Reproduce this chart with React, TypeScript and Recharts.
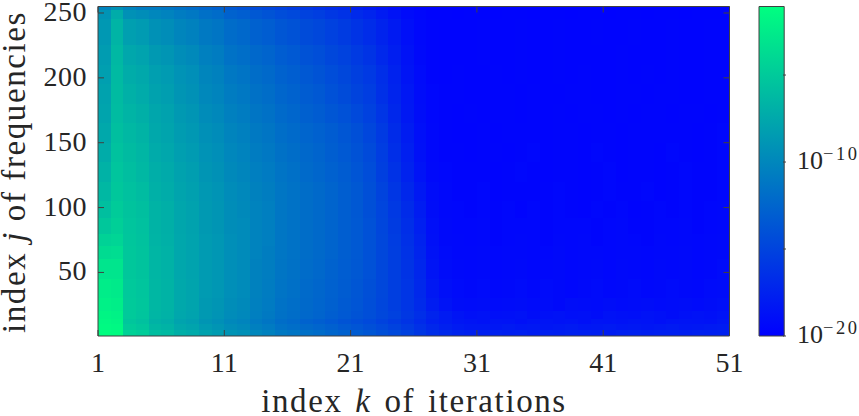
/**
 * Iteration / frequency residual heatmap (log10 values), winter colormap.
 * Each row band is one stacked Bar, each iteration k one x position.
 */
import { BarChart, Bar, XAxis, YAxis } from 'recharts'

const iterations = Array.from({ length: 50 }, (_, i) => i + 1)
const xTicks = [1, 11, 21, 31, 41, 51]
const yTicks = [50, 100, 150, 200, 250]
const jEdges = [0, 6, 10, 14, 20, 30, 45, 60, 70, 80, 92, 105, 120, 135, 150, 165, 180, 195, 210, 225, 245, 252, 256]

// log10 of the value, k = 1..50, lowest j band first
const band01 = [-1.1,-1.3,-4.4,-4.8,-5.9,-6.2,-7.0,-7.3,-8.0,-8.4,-9.0,-9.3,-10.0,-10.4,-11.0,-11.3,-11.7,-12.0,-12.4,-12.8,-13.2,-13.6,-14.1,-14.6,-15.2,-15.9,-16.6,-17.0,-17.4,-17.6,-17.7,-17.6,-17.8,-17.7,-17.9,-17.7,-17.8,-17.6,-17.7,-17.8,-17.9,-17.7,-17.6,-17.8,-17.7,-17.7,-17.8,-17.6,-17.7,-17.6]
const band02 = [-1.4,-1.6,-4.9,-5.3,-6.4,-6.7,-7.5,-7.8,-8.5,-8.9,-9.5,-9.8,-10.5,-10.9,-11.5,-11.8,-12.2,-12.5,-12.9,-13.3,-13.7,-14.1,-14.6,-15.1,-15.7,-16.4,-17.1,-17.6,-18.0,-18.2,-18.2,-18.3,-18.1,-18.3,-18.2,-18.4,-18.2,-18.1,-18.3,-18.2,-18.1,-18.3,-18.2,-18.4,-18.2,-18.1,-18.3,-18.2,-18.1,-18.0]
const band03 = [-1.6,-1.8,-5.3,-5.7,-6.8,-7.1,-7.9,-8.2,-8.9,-9.3,-9.9,-10.2,-10.9,-11.3,-11.9,-12.2,-12.7,-13.0,-13.4,-13.8,-14.2,-14.6,-15.1,-15.6,-16.2,-16.9,-17.6,-18.0,-18.4,-18.5,-18.7,-18.5,-18.6,-18.8,-18.6,-18.5,-18.7,-18.6,-18.8,-18.5,-18.6,-18.7,-18.5,-18.6,-18.8,-18.6,-18.5,-18.6,-18.7,-18.4]
const band04 = [-1.8,-2.0,-5.0,-5.4,-6.5,-6.8,-7.6,-7.9,-8.6,-9.0,-9.6,-9.9,-10.6,-11.0,-11.6,-11.9,-12.3,-12.6,-13.0,-13.4,-13.8,-14.2,-14.7,-15.2,-15.9,-16.6,-17.4,-18.0,-18.5,-18.8,-18.7,-18.9,-18.8,-18.7,-19.0,-18.8,-18.7,-18.9,-18.8,-19.0,-18.7,-18.8,-18.9,-18.7,-18.8,-19.0,-18.8,-18.7,-18.8,-18.6]
const band05 = [-2.1,-2.3,-5.0,-5.3,-6.4,-6.7,-7.5,-7.8,-8.6,-8.9,-9.5,-9.8,-10.5,-10.9,-11.5,-11.8,-12.2,-12.5,-12.9,-13.3,-13.7,-14.2,-14.8,-15.4,-16.1,-16.9,-17.9,-18.6,-19.0,-19.1,-19.0,-19.2,-19.1,-19.0,-19.2,-19.1,-19.3,-19.0,-19.1,-19.2,-19.0,-19.2,-19.1,-19.0,-19.2,-19.1,-19.0,-19.2,-19.0,-18.9]
const band06 = [-2.4,-2.6,-5.1,-5.4,-6.4,-6.7,-7.5,-7.8,-8.5,-8.8,-9.4,-9.7,-10.4,-10.8,-11.4,-11.7,-12.1,-12.4,-12.8,-13.2,-13.6,-14.1,-14.7,-15.4,-16.1,-17.0,-18.2,-18.9,-19.2,-19.3,-19.2,-19.4,-19.3,-19.2,-19.4,-19.2,-19.3,-19.5,-19.3,-19.2,-19.4,-19.3,-19.2,-19.4,-19.3,-19.2,-19.3,-19.4,-19.2,-19.1]
const band07 = [-3.0,-3.0,-5.2,-5.5,-6.5,-6.8,-7.6,-7.9,-8.5,-8.8,-9.4,-9.7,-10.4,-10.7,-11.3,-11.6,-12.0,-12.3,-12.7,-13.1,-13.5,-14.0,-14.7,-15.4,-16.2,-17.2,-18.5,-19.1,-19.3,-19.4,-19.3,-19.5,-19.4,-19.3,-19.5,-19.4,-19.3,-19.5,-19.4,-19.3,-19.5,-19.3,-19.4,-19.5,-19.3,-19.4,-19.3,-19.5,-19.4,-19.2]
const band08 = [-3.7,-3.6,-5.2,-5.5,-6.5,-6.8,-7.6,-7.9,-8.5,-8.8,-9.4,-9.7,-10.3,-10.7,-11.2,-11.5,-11.9,-12.2,-12.6,-13.0,-13.4,-14.0,-14.7,-15.4,-16.3,-17.3,-18.7,-19.2,-19.4,-19.4,-19.3,-19.5,-19.4,-19.4,-19.5,-19.5,-19.3,-19.5,-19.4,-19.4,-19.5,-19.4,-19.4,-19.5,-19.4,-19.4,-19.3,-19.5,-19.4,-19.3]
const band09 = [-4.4,-4.2,-5.3,-5.6,-6.6,-6.9,-7.6,-7.9,-8.5,-8.8,-9.4,-9.7,-10.3,-10.6,-11.2,-11.5,-11.9,-12.2,-12.6,-13.0,-13.4,-14.0,-14.7,-15.5,-16.4,-17.5,-18.8,-19.3,-19.4,-19.5,-19.4,-19.6,-19.5,-19.4,-19.5,-19.6,-19.4,-19.5,-19.4,-19.6,-19.5,-19.4,-19.5,-19.6,-19.4,-19.5,-19.4,-19.5,-19.4,-19.3]
const band10 = [-5.2,-4.6,-5.4,-5.7,-6.7,-7.0,-7.7,-8.0,-8.6,-8.9,-9.5,-9.7,-10.3,-10.6,-11.2,-11.5,-11.9,-12.2,-12.6,-13.0,-13.4,-14.0,-14.8,-15.6,-16.6,-17.7,-18.9,-19.3,-19.5,-19.5,-19.4,-19.6,-19.5,-19.5,-19.5,-19.6,-19.5,-19.5,-19.5,-19.6,-19.5,-19.4,-19.6,-19.6,-19.5,-19.5,-19.4,-19.6,-19.5,-19.4]
const band11 = [-5.8,-4.9,-5.5,-5.8,-6.7,-7.0,-7.7,-8.0,-8.6,-8.9,-9.5,-9.8,-10.3,-10.6,-11.2,-11.5,-11.9,-12.2,-12.6,-13.0,-13.5,-14.1,-14.9,-15.8,-16.8,-17.9,-19.0,-19.4,-19.5,-19.6,-19.5,-19.6,-19.5,-19.7,-19.5,-19.6,-19.5,-19.6,-19.7,-19.5,-19.6,-19.5,-19.7,-19.6,-19.5,-19.6,-19.5,-19.6,-19.5,-19.4]
const band12 = [-6.3,-5.2,-5.7,-6.0,-6.9,-7.2,-7.8,-8.1,-8.7,-9.0,-9.6,-9.9,-10.4,-10.7,-11.2,-11.5,-11.9,-12.2,-12.6,-13.0,-13.5,-14.1,-15.0,-16.0,-17.1,-18.2,-19.1,-19.4,-19.6,-19.6,-19.5,-19.7,-19.6,-19.6,-19.6,-19.6,-19.5,-19.6,-19.7,-19.6,-19.5,-19.6,-19.6,-19.5,-19.7,-19.6,-19.5,-19.6,-19.6,-19.5]
const band13 = [-6.8,-5.4,-5.9,-6.3,-7.1,-7.4,-8.0,-8.3,-8.9,-9.2,-9.8,-10.1,-10.6,-10.9,-11.4,-11.7,-12.1,-12.4,-12.8,-13.2,-13.7,-14.3,-15.3,-16.3,-17.5,-18.6,-19.3,-19.5,-19.6,-19.6,-19.6,-19.7,-19.6,-19.5,-19.6,-19.7,-19.6,-19.6,-19.7,-19.6,-19.5,-19.7,-19.6,-19.6,-19.7,-19.6,-19.5,-19.6,-19.6,-19.5]
const band14 = [-7.2,-5.6,-6.1,-6.5,-7.3,-7.6,-8.2,-8.5,-9.1,-9.4,-10.0,-10.3,-10.8,-11.1,-11.6,-11.9,-12.3,-12.6,-13.0,-13.4,-13.9,-14.5,-15.5,-16.6,-17.7,-18.8,-19.4,-19.6,-19.6,-19.7,-19.6,-19.6,-19.7,-19.6,-19.5,-19.7,-19.6,-19.6,-19.7,-19.5,-19.6,-19.7,-19.6,-19.6,-19.7,-19.5,-19.6,-19.7,-19.6,-19.5]
const band15 = [-7.5,-5.8,-6.3,-6.7,-7.5,-7.8,-8.4,-8.7,-9.3,-9.6,-10.2,-10.5,-11.0,-11.3,-11.8,-12.1,-12.5,-12.8,-13.2,-13.6,-14.1,-14.8,-15.7,-16.8,-17.9,-18.9,-19.4,-19.6,-19.7,-19.7,-19.6,-19.7,-19.6,-19.6,-19.6,-19.7,-19.6,-19.6,-19.7,-19.6,-19.6,-19.7,-19.6,-19.6,-19.6,-19.6,-19.6,-19.7,-19.6,-19.5]
const band16 = [-7.8,-6.0,-6.6,-7.0,-7.7,-8.0,-8.6,-8.9,-9.6,-9.9,-10.5,-10.8,-11.3,-11.6,-12.1,-12.4,-12.9,-13.2,-13.6,-14.0,-14.6,-15.2,-16.1,-17.1,-18.2,-19.0,-19.5,-19.6,-19.7,-19.6,-19.7,-19.6,-19.6,-19.7,-19.6,-19.7,-19.6,-19.7,-19.6,-19.6,-19.7,-19.6,-19.7,-19.6,-19.6,-19.7,-19.6,-19.6,-19.7,-19.6]
const band17 = [-8.0,-6.1,-6.9,-7.3,-8.0,-8.3,-8.9,-9.2,-9.9,-10.2,-10.8,-11.1,-11.6,-11.9,-12.4,-12.7,-13.2,-13.5,-14.0,-14.4,-15.0,-15.5,-16.4,-17.3,-18.3,-19.1,-19.5,-19.6,-19.6,-19.7,-19.7,-19.6,-19.6,-19.7,-19.6,-19.7,-19.7,-19.6,-19.6,-19.7,-19.7,-19.6,-19.6,-19.7,-19.6,-19.6,-19.7,-19.7,-19.6,-19.6]
const band18 = [-8.2,-6.2,-7.2,-7.5,-8.2,-8.5,-9.1,-9.4,-10.1,-10.4,-11.1,-11.4,-11.9,-12.2,-12.7,-13.0,-13.5,-13.8,-14.3,-14.7,-15.3,-15.8,-16.6,-17.5,-18.5,-19.2,-19.6,-19.7,-19.6,-19.7,-19.7,-19.6,-19.7,-19.6,-19.7,-19.7,-19.6,-19.7,-19.6,-19.7,-19.7,-19.6,-19.7,-19.6,-19.7,-19.6,-19.7,-19.7,-19.6,-19.6]
const band19 = [-8.4,-6.3,-7.6,-7.9,-8.6,-8.9,-9.5,-9.8,-10.5,-10.8,-11.5,-11.8,-12.3,-12.6,-13.1,-13.4,-13.9,-14.2,-14.7,-15.1,-15.7,-16.2,-17.0,-17.8,-18.7,-19.3,-19.6,-19.7,-19.7,-19.7,-19.6,-19.7,-19.7,-19.6,-19.7,-19.7,-19.6,-19.7,-19.7,-19.7,-19.7,-19.6,-19.7,-19.7,-19.7,-19.6,-19.7,-19.7,-19.6,-19.6]
const band20 = [-8.7,-6.6,-8.2,-8.5,-9.2,-9.5,-10.1,-10.4,-11.0,-11.3,-12.0,-12.3,-12.8,-13.1,-13.6,-13.9,-14.4,-14.7,-15.2,-15.6,-16.2,-16.7,-17.4,-18.1,-18.9,-19.4,-19.6,-19.7,-19.7,-19.7,-19.6,-19.7,-19.7,-19.6,-19.7,-19.7,-19.6,-19.7,-19.7,-19.6,-19.7,-19.7,-19.6,-19.7,-19.7,-19.6,-19.7,-19.7,-19.6,-19.6]
const band21 = [-9.0,-7.2,-9.2,-9.5,-10.0,-10.3,-10.8,-11.1,-11.7,-12.0,-12.7,-13.0,-13.5,-13.8,-14.3,-14.6,-15.1,-15.4,-15.9,-16.3,-16.9,-17.3,-18.0,-18.6,-19.2,-19.5,-19.7,-19.7,-19.8,-19.7,-19.7,-19.8,-19.7,-19.7,-19.8,-19.7,-19.7,-19.8,-19.7,-19.7,-19.8,-19.7,-19.7,-19.8,-19.7,-19.7,-19.8,-19.7,-19.7,-19.7]
const band22 = [-10.2,-9.2,-10.2,-10.8,-10.9,-11.2,-11.6,-12.0,-12.5,-12.9,-13.5,-13.9,-14.4,-14.8,-15.2,-15.6,-16.0,-16.4,-16.8,-17.2,-17.8,-18.2,-18.7,-19.1,-19.5,-19.7,-19.8,-19.8,-19.8,-19.8,-19.8,-19.8,-19.8,-19.8,-19.8,-19.8,-19.8,-19.8,-19.8,-19.8,-19.8,-19.8,-19.8,-19.8,-19.8,-19.8,-19.8,-19.8,-19.8,-19.8]

const bands = [band01, band02, band03, band04, band05, band06, band07, band08, band09, band10, band11, band12, band13, band14, band15, band16, band17, band18, band19, band20, band21, band22]

const barLimits = [-20, -1.06]
const barMinorTicks = [-15, -5]
const barTicks = [-20, -15, -10, -5]

const TEXT = '#262626'
const AXIS = '#404040'
const FONT = '"Liberation Serif", serif'

// MATLAB winter: blue to spring green
function winter(v: number) {
  const t = Math.max(0, Math.min(1, (v - barLimits[0]) / (barLimits[1] - barLimits[0])))
  return `rgb(0,${Math.round(255 * t)},${Math.round(255 - 127.5 * t)})`
}

const chartData = iterations.map((k) => {
  const row: Record<string, number> = { k, mid: k + 0.5 }
  bands.forEach((_, b) => { row[`b${b}`] = jEdges[b + 1] - jEdges[b] })
  return row
})

const barData = [{ name: 'scale', range: barLimits }]

// eslint-disable-next-line @typescript-eslint/no-explicit-any
function CellShape(props: any) {
  const { x, y, width, height, payload, bandIndex } = props
  return (
    <rect x={x} y={y} width={width} height={height} shapeRendering="crispEdges"
      fill={winter(bands[bandIndex][payload.k - 1])} />
  )
}

// ticks point inward on all four sides, like the MATLAB box
// eslint-disable-next-line @typescript-eslint/no-explicit-any
function BottomTick({ x, y, payload }: any) {
  return (
    <g>
      <line x1={x} x2={x} y1={y} y2={y - 6} stroke={AXIS} />
      <text x={x} y={y + 36} textAnchor="middle" fontSize={28} fontFamily={FONT} fill={TEXT}>{payload.value}</text>
    </g>
  )
}
// eslint-disable-next-line @typescript-eslint/no-explicit-any
function TopTick({ x, y }: any) {
  return <line x1={x} x2={x} y1={y} y2={y + 6} stroke={AXIS} />
}
// eslint-disable-next-line @typescript-eslint/no-explicit-any
function LeftTick({ x, y, payload }: any) {
  return (
    <g>
      <line x1={x} x2={x + 6} y1={y} y2={y} stroke={AXIS} />
      <text x={x - 11} y={y + 8} textAnchor="end" fontSize={28} letterSpacing={0.5} fontFamily={FONT} fill={TEXT}>{payload.value}</text>
    </g>
  )
}
// eslint-disable-next-line @typescript-eslint/no-explicit-any
function RightTick({ x, y }: any) {
  return <line x1={x} x2={x - 6} y1={y} y2={y} stroke={AXIS} />
}
// eslint-disable-next-line @typescript-eslint/no-explicit-any
function ScaleTick({ x, y, payload }: any) {
  const major = !barMinorTicks.includes(payload.value)
  return (
    <g>
      <line x1={x} x2={x - 3} y1={y} y2={y} stroke={AXIS} />
      {major && (
        <text x={x + 11} y={y + 7} fontSize={26} fontFamily={FONT} fill={TEXT}>
          10
          <tspan dy={-9.5} fontSize={18.5} letterSpacing={2.5}>{`\u2212${Math.abs(payload.value)}`}</tspan>
        </text>
      )}
    </g>
  )
}

export default function App() {
  return (
    <div style={{ position: 'absolute', left: 0, top: 0, width: 859, height: 416, background: '#fff' }}>
      <BarChart
        width={859}
        height={416}
        data={chartData}
        barCategoryGap={0}
        barGap={0}
        margin={{ top: 5.5, right: 128.5, bottom: 79, left: 97 }}
        style={{ position: 'absolute', left: 0, top: 0 }}
      >
        {bands.map((_, b) => (
          <Bar
            key={b}
            dataKey={`b${b}`}
            stackId="cells"
            isAnimationActive={false}
            shape={(p: any) => <CellShape {...p} bandIndex={b} />}
          />
        ))}
        <XAxis
          type="number"
          dataKey="mid"
          domain={[1, 51]}
          ticks={xTicks}
          height={1}
          interval={0}
          allowDataOverflow
          stroke={AXIS}
          tickLine={false}
          tickSize={0}
          tickMargin={0}
          tick={<BottomTick />}
          label={{
            content: () => (
              <text x={414} y={412} textAnchor="middle" fontSize={33} letterSpacing={1.6} wordSpacing={3} fontFamily={FONT} fill={TEXT}>
                index <tspan fontStyle="italic">k</tspan> of iterations
              </text>
            ),
          }}
        />
        <XAxis
          xAxisId="top"
          orientation="top"
          type="number"
          dataKey="mid"
          domain={[1, 51]}
          ticks={xTicks}
          height={1}
          interval={0}
          allowDataOverflow
          stroke={AXIS}
          tickLine={false}
          tickSize={0}
          tickMargin={0}
          tick={<TopTick />}
        />
        <YAxis
          type="number"
          domain={[1, 255]}
          ticks={yTicks}
          width={1}
          interval={0}
          allowDataOverflow
          stroke={AXIS}
          tickLine={false}
          tickSize={0}
          tickMargin={0}
          tick={<LeftTick />}
          label={{
            content: () => (
              <text transform="translate(25,172) rotate(-90)" textAnchor="middle" fontSize={33} letterSpacing={1.6} fontFamily={FONT} fill={TEXT}>
                index <tspan fontStyle="italic">j</tspan> of frequencies
              </text>
            ),
          }}
        />
        <YAxis
          yAxisId="right"
          orientation="right"
          type="number"
          domain={[1, 255]}
          ticks={yTicks}
          width={1}
          interval={0}
          allowDataOverflow
          stroke={AXIS}
          tickLine={false}
          tickSize={0}
          tickMargin={0}
          tick={<RightTick />}
        />
      </BarChart>

      <BarChart
        width={859}
        height={416}
        data={barData}
        barSize={28}
        margin={{ top: 6.5, right: 72, bottom: 80, left: 758 }}
        style={{ position: 'absolute', left: 0, top: 0 }}
      >
        <defs>
          <linearGradient id="winterScale" x1="0" y1="1" x2="0" y2="0">
            <stop offset="0%" stopColor="rgb(0,0,255)" />
            <stop offset="100%" stopColor="rgb(0,255,128)" />
          </linearGradient>
        </defs>
        <Bar dataKey="range" fill="url(#winterScale)" isAnimationActive={false} stroke={AXIS} />
        <XAxis dataKey="name" hide />
        <YAxis
          orientation="right"
          type="number"
          domain={barLimits}
          ticks={barTicks}
          width={1}
          interval={0}
          axisLine={false}
          tickLine={false}
          tickSize={0}
          tickMargin={0}
          tick={<ScaleTick />}
        />
      </BarChart>
    </div>
  )
}
